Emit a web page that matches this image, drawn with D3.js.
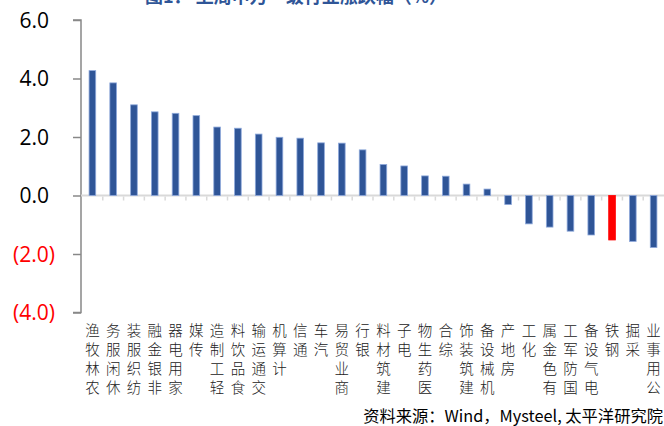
<!DOCTYPE html>
<html>
<head>
<meta charset="utf-8">
<script src="https://cdn.jsdelivr.net/npm/d3@7/dist/d3.min.js"></script>
<style>
  html, body { margin: 0; padding: 0; background: #fff; }
  svg { display: block; }
</style>
</head>
<body>
<svg id="chart" width="664" height="426"></svg>
<script>
// Weekly change by industry (%)
const categories = ["农林牧渔","休闲服务","纺织服装","非银金融","家用电器","传媒","轻工制造","食品饮料","交通运输","计算机","通信","汽车","商业贸易","银行","建筑材料","电子","医药生物","综合","建筑装饰","机械设备","房地产","化工","有色金属","国防军工","电气设备","钢铁","采掘","公用事业"];
const values = [4.27, 3.85, 3.10, 2.86, 2.81, 2.73, 2.34, 2.30, 2.10, 1.99, 1.96, 1.80, 1.79, 1.56, 1.06, 1.01, 0.67, 0.66, 0.39, 0.22, -0.31, -0.97, -1.08, -1.22, -1.35, -1.52, -1.57, -1.78];
const highlighted = ["钢铁"];
const yTicks = [-4, -2, 0, 2, 4, 6];
const titleText = "图1： 上周申万一级行业涨跌幅（%）";
const sourceText = "资料来源：Wind，Mysteel, 太平洋研究院";

const svg = d3.select("#chart");
const data = categories.map((c, i) => ({ name: c, value: values[i] }));

const x = d3.scaleBand().domain(categories).range([82, 664]).paddingInner(0.68).paddingOuter(0.34);
const y = d3.scaleLinear().domain([-4, 6]).range([312.5, 20]);

// title, running off the top edge
svg.append("text")
  .attr("x", 145).attr("y", 3)
  .attr("font-family", "Noto Sans CJK SC, sans-serif")
  .attr("font-size", 18).attr("font-weight", 700)
  .attr("fill", "#2F5597")
  .text(titleText);

// y axis
const yAxis = d3.axisLeft(y).tickValues(yTicks).tickSize(8).tickPadding(0)
  .tickFormat(d => d < 0 ? "(" + d3.format(".1f")(-d) + ")" : d3.format(".1f")(d));
const gy = svg.append("g").attr("transform", "translate(81,0)").call(yAxis);
gy.select(".domain").attr("stroke", "#888").attr("stroke-width", 1.5).attr("d", `M-8,${y(6)}H0V${y(-4)}H-8`);
gy.selectAll(".tick line").attr("stroke", "#888").attr("stroke-width", 1.5);
gy.selectAll(".tick text")
  .attr("x", d => d < 0 ? -26 : -32)
  .attr("dy", "0.35em")
  .attr("font-family", "Open Sans, Noto Sans, sans-serif")
  .attr("font-size", 21)
  .attr("fill", d => d < 0 ? "#FF0000" : "#000");

// zero baseline with category ticks
const xAxis = d3.axisBottom(x).tickSize(0).tickFormat("");
const gx = svg.append("g").attr("transform", `translate(0,${y(0)})`).call(xAxis);
gx.select(".domain").attr("stroke", "#d9d9d9").attr("stroke-width", 2).attr("d", `M81,0H664`);
const step = x.step();
gx.selectAll(".cat-tick").data(categories.slice(1))
  .enter().append("line")
  .attr("class", "cat-tick")
  .attr("x1", d => x(d) - (step - x.bandwidth()) / 2)
  .attr("x2", d => x(d) - (step - x.bandwidth()) / 2)
  .attr("y1", 1).attr("y2", 5)
  .attr("stroke", "#d9d9d9").attr("stroke-width", 1.5);

// bars
svg.append("g").selectAll("rect").data(data).enter().append("rect")
  .attr("x", d => x(d.name))
  .attr("width", x.bandwidth())
  .attr("y", d => y(Math.max(0, d.value)))
  .attr("height", d => Math.abs(y(d.value) - y(0)))
  .attr("fill", d => highlighted.includes(d.name) ? "#FF0000" : "#2F5597")
  .attr("stroke", d => highlighted.includes(d.name) ? "#FF0000" : "#8EA9DB")
  .attr("stroke-width", 0.8);

// vertical category labels: upright characters, reading bottom to top, top-aligned
const labelTop = 331, charStep = 19;
const labels = svg.append("g").attr("font-family", "Noto Sans CJK SC, sans-serif")
  .attr("font-size", 14.5).attr("font-weight", 300).attr("fill", "#222").attr("text-anchor", "middle");
data.forEach(d => {
  const chars = Array.from(d.name);
  const n = chars.length;
  chars.forEach((ch, i) => {
    labels.append("text")
      .attr("x", x(d.name) + x.bandwidth() / 2)
      .attr("y", labelTop + (n - 1 - i) * charStep)
      .attr("dy", "0.36em")
      .text(ch);
  });
});

// source note
svg.append("text")
  .attr("x", 663).attr("y", 422)
  .attr("text-anchor", "end")
  .attr("font-family", "Noto Sans CJK SC, sans-serif")
  .attr("font-size", 16.3)
  .attr("fill", "#000")
  .text(sourceText);
</script>
</body>
</html>
